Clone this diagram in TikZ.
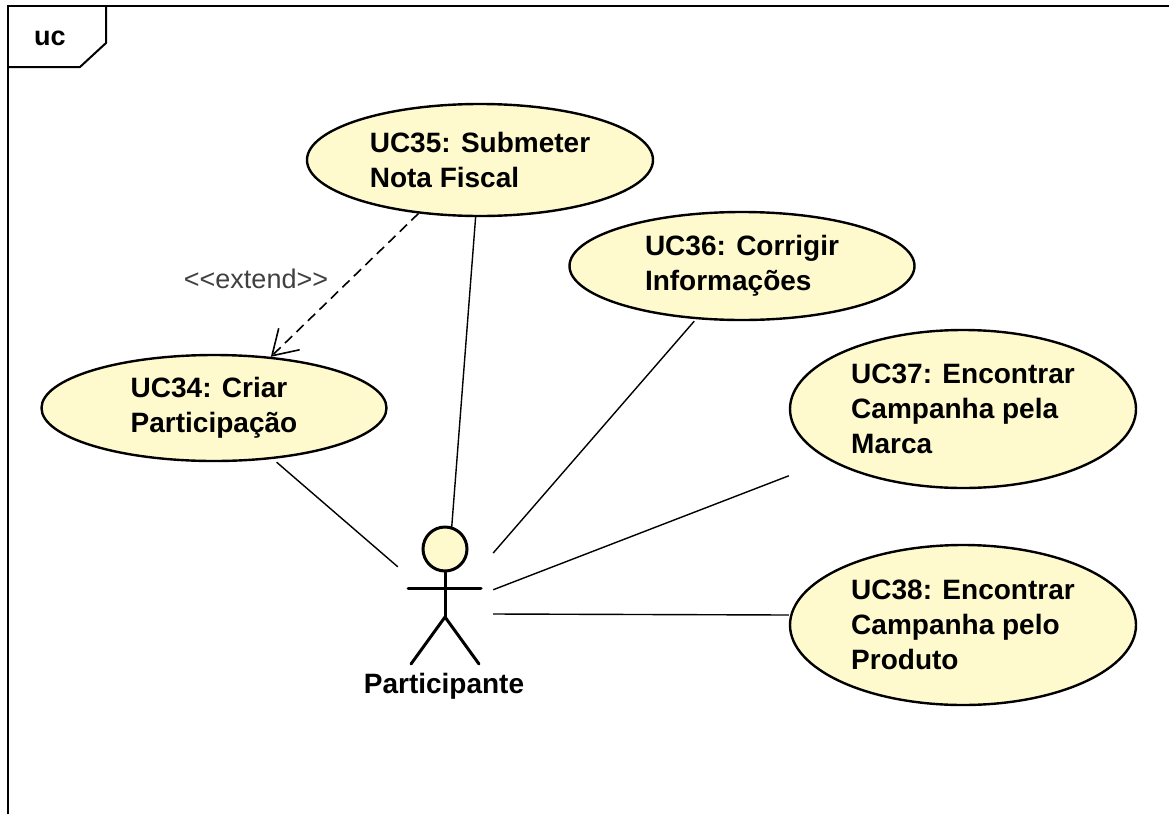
\documentclass[tikz,border=0pt]{standalone}
\usepackage{fontspec}
\setmainfont{Liberation Sans}
\newfontfamily\plainsans{Liberation Sans}
\usetikzlibrary{shapes.geometric,arrows.meta,fit}
\definecolor{ucfill}{RGB}{254,250,205}
\definecolor{stereo}{RGB}{64,64,64}
\tikzset{
  usecase/.style={ellipse, draw=black, line width=2.4pt, fill=ucfill,
    inner sep=0pt, align=left, font=\fontsize{28}{35}\selectfont\bfseries},
  ucbox/.style={rectangle, inner sep=0pt, outer sep=0pt},
  assoc/.style={line width=1.4pt, black},
  extendline/.style={line width=1.6pt, dash pattern=on 10pt off 6pt,
    -{Straight Barb[length=24pt,width=30pt,line width=1.6pt]}},
  stick/.style={line width=3pt, line cap=round},
  framebox/.style={line width=2pt, black}
}
\begin{document}
\begin{tikzpicture}[x=1pt,y=-1pt]
\useasboundingbox (0,0) rectangle (1169,814);
% diagram frame with its name tab
\draw[framebox] (8,814) -- (8,6) -- (1175,6);
\draw[framebox] (8,67) -- (80,67) -- (106,43) -- (106,6);
\node[font=\fontsize{27}{30}\selectfont\bfseries] (frametitle) at (50,38) {uc};

% use cases
\node[usecase, minimum width=346pt, minimum height=112pt] (uc35) at (480,160)
  {UC35: Submeter\\Nota Fiscal};
\node[usecase, minimum width=345pt, minimum height=108pt] (uc36) at (742,266)
  {UC36: Corrigir\\Informações};
\node[usecase, minimum width=345pt, minimum height=106pt] (uc34) at (214,408)
  {UC34: Criar\\Participação};
\node[usecase, minimum width=346pt, minimum height=158pt] (uc37) at (963,409)
  {UC37: Encontrar\\Campanha pela\\Marca};
\node[usecase, minimum width=346pt, minimum height=160pt] (uc38) at (963,625)
  {UC38: Encontrar\\Campanha pelo\\Produto};

% bounding boxes of the use cases, where the associations end
\node[ucbox, fit=(uc35)] (uc35box) {};
\node[ucbox, fit=(uc36)] (uc36box) {};
\node[ucbox, fit=(uc34)] (uc34box) {};
\node[ucbox, fit=(uc37)] (uc37box) {};
\node[ucbox, fit=(uc38)] (uc38box) {};

% actor
\node[minimum width=95pt, minimum height=162pt, inner sep=0pt] (actor) at (445.5,608) {};
\node[circle, draw=black, line width=3pt, fill=ucfill, minimum size=44pt, inner sep=0pt]
  (head) at (445,549) {};
\coordinate (hip) at (445,617);
\coordinate (armL) at (408,588);
\coordinate (armR) at (481,588);
\coordinate (footL) at (411,664);
\coordinate (footR) at (479,664);
\draw[stick] (head.south) -- (hip);
\draw[stick] (armL) -- (armR);
\draw[stick] (footL) -- (hip) -- (footR);
\node[font=\fontsize{28}{30}\selectfont\bfseries, anchor=base] (actorname) at (444,693) {Participante};

% associations
\draw[assoc] (uc35box) -- (actor);
\draw[assoc] (uc36box) -- (actor);
\draw[assoc] (uc37box) -- (actor);
\draw[assoc] (uc38box.west |- 0,615) -- (actor.east |- 0,614);
\draw[assoc] (uc34box) -- (actor);

% extend relationship
\draw[extendline] (uc35.221) -- (uc34.42);
\node[font=\fontsize{27}{30}\selectfont\plainsans, text=stereo, anchor=base] (extlabel)
  at (256,288) {<<extend>>};
\end{tikzpicture}
\end{document}
